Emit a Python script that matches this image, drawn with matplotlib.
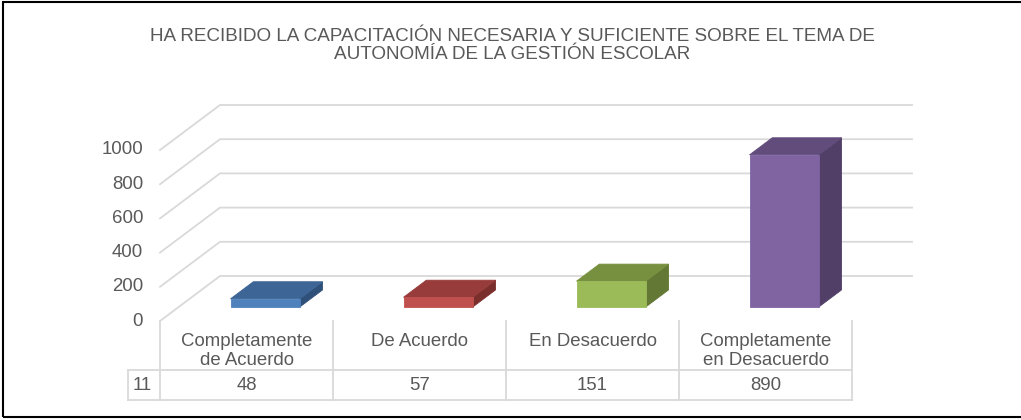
import matplotlib.pyplot as plt
from matplotlib.patches import Polygon, Rectangle

plt.rcParams['font.family'] = ['Liberation Sans', 'DejaVu Sans']

# Data
titulo = ['HA RECIBIDO LA CAPACITACIÓN NECESARIA Y SUFICIENTE SOBRE EL TEMA DE',
          'AUTONOMÍA DE LA GESTIÓN ESCOLAR']
categorias = ['Completamente\nde Acuerdo', 'De Acuerdo', 'En Desacuerdo',
              'Completamente\nen Desacuerdo']
valores = [48, 57, 151, 890]
serie = '11'
ticks_y = [0, 200, 400, 600, 800, 1000]

# (front, top, side) shades for each bar
colores = [('#4F81BD', '#3D6596', '#2F5078'),
           ('#C0504D', '#973C3A', '#7B2F2D'),
           ('#9BBB59', '#77903F', '#627834'),
           ('#8064A2', '#624C7C', '#513F67')]
gris = '#595959'
linea = '#D9D9D9'

W, H = 1021, 420
fig = plt.figure(figsize=(W / 100, H / 100), dpi=100)
ax = fig.add_axes([160 / W, 99 / H, 692 / W, 171 / H])
ax.set_xlim(0, len(categorias))
ax.set_ylim(0, 1000)
ax.axis('off')

px_x = 692 / len(categorias)   # pixels per category
px_v = 171 / 1000              # pixels per unit value
DX = 60 / px_x                 # depth direction, data units
DY = 45 / px_v


def p(x, v, d):
    return (x + d * DX, v + d * DY)


# back wall grid + left diagonals
n = len(categorias)
for v in ticks_y:
    xs, ys = zip(p(0, v, 0), p(0, v, 1), p(n, v, 1))
    ax.plot(xs, ys, color=linea, lw=1.3, clip_on=False, zorder=1)
    ax.text(-17 / px_x, v, str(v), ha='right', va='center',
            fontsize=13.4, color=gris)

# bars
d0, d1 = 0.31, 0.69
for i, (v, (cf, ct, cs)) in enumerate(zip(valores, colores)):
    x0, x1 = i + 0.3, i + 0.7
    side = [p(x1, 0, d0), p(x1, 0, d1), p(x1, v, d1), p(x1, v, d0)]
    top = [p(x0, v, d0), p(x1, v, d0), p(x1, v, d1), p(x0, v, d1)]
    front = [p(x0, 0, d0), p(x1, 0, d0), p(x1, v, d0), p(x0, v, d0)]
    for pts, c in ((side, cs), (top, ct), (front, cf)):
        ax.add_patch(Polygon(pts, closed=True, fc=c, ec=c, lw=0.6,
                             clip_on=False, zorder=3))

# data table
row_top = -49 / px_v
row_bot = -79 / px_v
x_left = -32 / px_x
kw = dict(color=linea, lw=1.3, clip_on=False, zorder=1)
ax.plot([x_left, n], [row_top, row_top], **kw)
ax.plot([x_left, n], [row_bot, row_bot], **kw)
ax.plot([x_left, x_left], [row_top, row_bot], **kw)
for i in range(n + 1):
    ax.plot([i, i], [0, row_bot], **kw)

for i, (cat, v) in enumerate(zip(categorias, valores)):
    ax.text(i + 0.5, -12 / px_v, cat, ha='center', va='top',
            fontsize=13.4, color=gris, linespacing=1.12)
    ax.text(i + 0.5, (row_top + row_bot) / 2, str(v), ha='center',
            va='center', fontsize=13.4, color=gris)
ax.text(-27 / px_x, (row_top + row_bot) / 2, serie, ha='left',
        va='center', fontsize=13.4, color=gris)

# title, two centred lines
for linea_t, base in zip(titulo, [41, 59]):
    fig.text(512 / W, 1 - base / H, linea_t, ha='center', va='baseline',
             fontsize=13.6, color=gris)

fig.add_artist(Rectangle((2.5 / W, 3 / H), 1.1, 415 / H,
                         transform=fig.transFigure, fill=False,
                         ec='black', lw=1.5))

fig.savefig('out.png', dpi=100)
